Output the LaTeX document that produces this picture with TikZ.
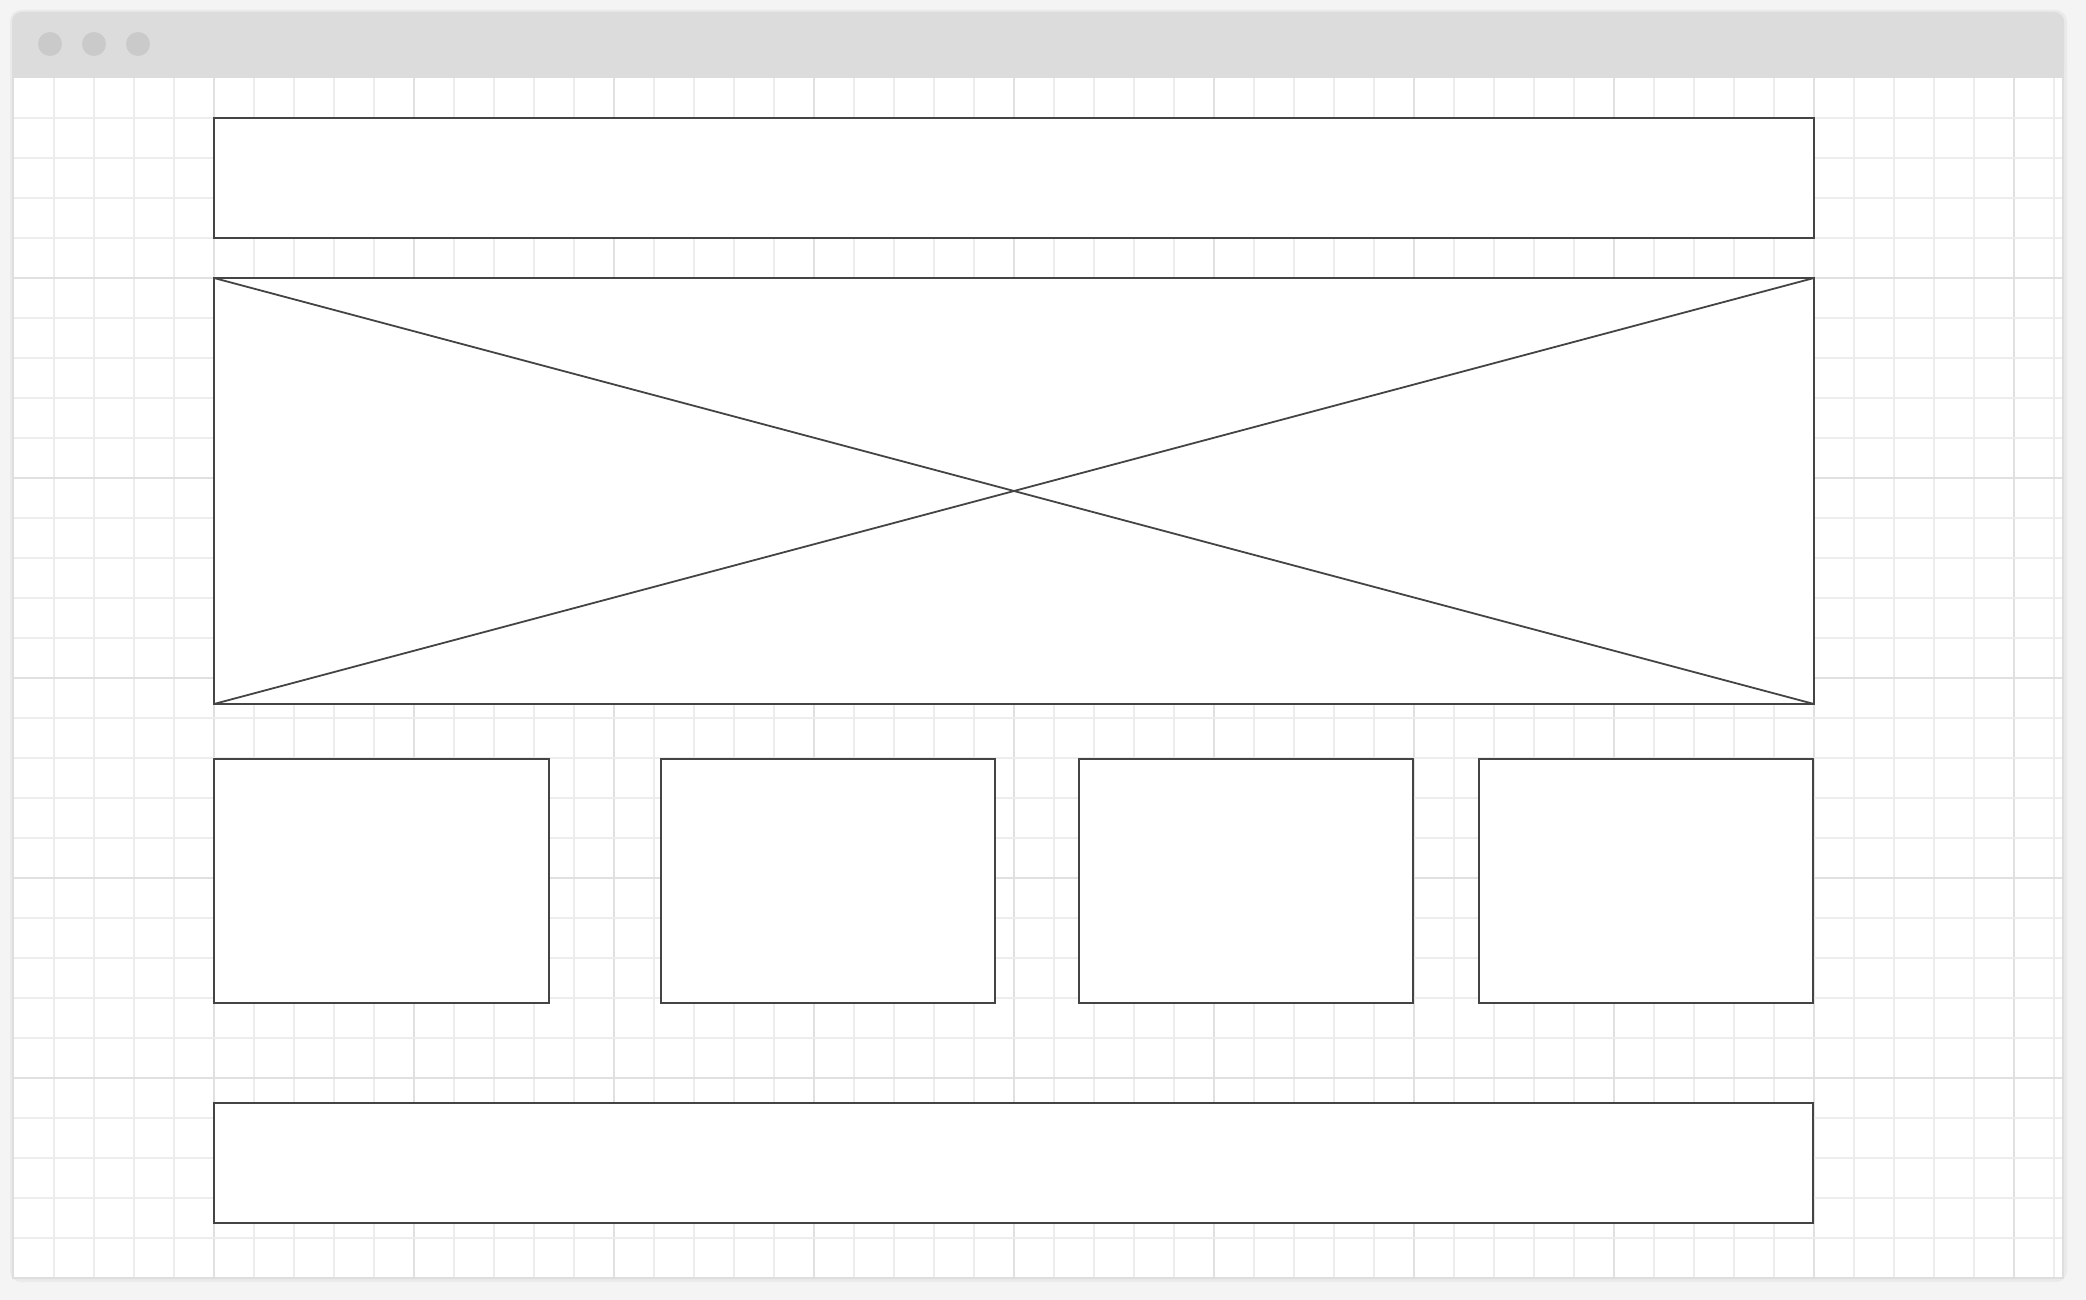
\documentclass[tikz,border=0pt]{standalone}
\definecolor{pagebg}{HTML}{F4F4F4}
\definecolor{shadowc}{HTML}{EAEAEA}
\definecolor{framec}{HTML}{DEDEDE}
\definecolor{barc}{HTML}{DCDCDC}
\definecolor{dotc}{HTML}{CACACA}
\definecolor{minorc}{HTML}{EDEDED}
\definecolor{majorc}{HTML}{E0E0E0}
\definecolor{boxc}{HTML}{444444}
\tikzset{
  wirebox/.style={rectangle, draw=boxc, fill=white, line width=2pt, inner sep=0pt, outer sep=0pt},
  crossline/.style={draw=boxc, line width=1.8pt},
  dotbtn/.style={circle, fill=dotc, minimum size=24pt, inner sep=0pt},
  minorline/.style={draw=minorc, line width=1.5pt},
  majorline/.style={draw=majorc, line width=1.5pt}
}
\begin{document}
\begin{tikzpicture}[x=1pt,y=-1pt]
\useasboundingbox (0,0) rectangle (2086,1300);
\fill[pagebg] (0,0) rectangle (2086,1300);
% window shadow and frame
\fill[shadowc, rounded corners=11pt] (10,10) rectangle (2067,1282);
\fill[framec, rounded corners=10pt] (12,12) rectangle (2064,1279);
\fill[framec] (12,60) rectangle (2064,1279);
% title bar
\fill[barc, rounded corners=10pt] (12,12) rectangle (2064,78);
\fill[barc] (12,50) rectangle (2064,78);
% content area
\fill[white] (14,78) rectangle (2062,1277);
% grid
\foreach \k in {1,...,51} {
  \pgfmathtruncatemacro{\m}{mod(\k,5)}
  \ifnum\m=0
    \draw[majorline] ({14+40*\k},78) -- ({14+40*\k},1277);
  \else
    \draw[minorline] ({14+40*\k},78) -- ({14+40*\k},1277);
  \fi
}
\foreach \k in {1,...,29} {
  \pgfmathtruncatemacro{\m}{mod(\k,5)}
  \ifnum\m=0
    \draw[majorline] (14,{78+40*\k}) -- (2062,{78+40*\k});
  \else
    \draw[minorline] (14,{78+40*\k}) -- (2062,{78+40*\k});
  \fi
}
% window buttons
\node[dotbtn] (btnA) at (50,44) {};
\node[dotbtn] (btnB) at (94,44) {};
\node[dotbtn] (btnC) at (138,44) {};
% wireframe boxes
\node[wirebox, minimum width=1600pt, minimum height=120pt] (header) at (1014,178) {};
\node[wirebox, minimum width=1600pt, minimum height=426pt] (hero) at (1014,491) {};
\draw[crossline] (hero.north west) -- (hero.south east);
\draw[crossline] (hero.north east) -- (hero.south west);
\node[wirebox, minimum width=335pt, minimum height=244pt] (cardA) at (381.5,881) {};
\node[wirebox, minimum width=334pt, minimum height=244pt] (cardB) at (828,881) {};
\node[wirebox, minimum width=334pt, minimum height=244pt] (cardC) at (1246,881) {};
\node[wirebox, minimum width=334pt, minimum height=244pt] (cardD) at (1646,881) {};
\node[wirebox, minimum width=1599pt, minimum height=120pt] (footer) at (1013.5,1163) {};
\end{tikzpicture}
\end{document}
